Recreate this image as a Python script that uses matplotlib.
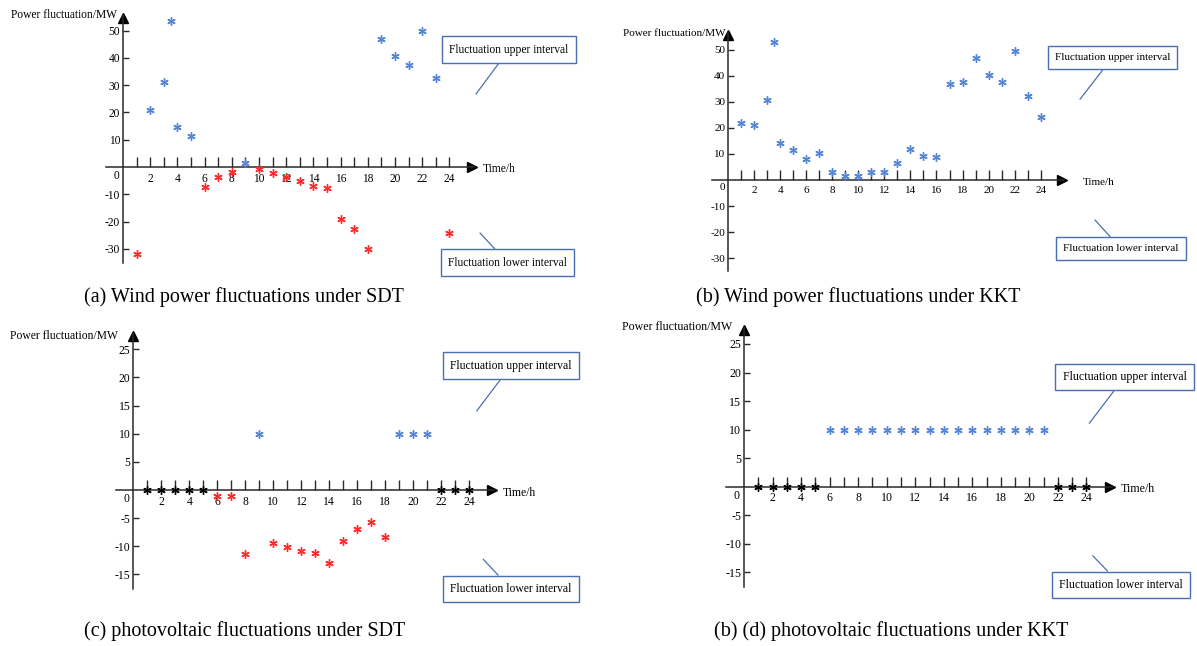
import matplotlib.pyplot as plt

plt.rcParams['font.family'] = ['Liberation Serif', 'DejaVu Serif']
plt.rcParams['axes.unicode_minus'] = False

# 数据
hours = list(range(1, 25))

# (a) 风电 SDT
wind_sdt_up_t = [2, 3, 3.5, 4, 5, 9, 19, 20, 21, 22, 23]
wind_sdt_up_v = [21, 31, 53.5, 14.5, 11.5, 1.5, 47, 40.5, 37.5, 50, 32.5]
wind_sdt_low_t = [1, 6, 7, 8, 10, 11, 12, 13, 14, 15, 16, 17, 18, 24]
wind_sdt_low_v = [-32, -7.5, -3.8, -1.8, -0.9, -2.3, -3.7, -5.1, -6.8, -7.6, -19.2, -22.6, -30, -24]

# (b) 风电 KKT
wind_kkt_t = [1, 2, 3, 3.5, 4, 5, 6, 7, 8, 9, 10, 11, 12, 13, 14, 15, 16, 17, 18, 19, 20, 21, 22, 23, 24]
wind_kkt_v = [22, 21, 30.7, 53, 14, 11.5, 8, 10.5, 3, 1.5, 1.5, 3, 3, 6.6, 12, 9.3, 8.8,
              36.8, 37.5, 46.6, 40.1, 37.5, 49.5, 32.3, 24]

# (c) 光伏 SDT
pv_zero_t = [1, 2, 3, 4, 5, 22, 23, 24]
pv_zero_v = [0, 0, 0, 0, 0, 0, 0, 0]
pv_sdt_up_t = [9, 19, 20, 21]
pv_sdt_up_v = [10, 10, 10, 10]
pv_sdt_low_t = [6, 7, 8, 10, 11, 12, 13, 14, 15, 16, 17, 18]
pv_sdt_low_v = [-1, -1, -11.4, -9.4, -10.2, -10.8, -11.2, -13, -9, -7, -5.7, -8.3]

# (d) 光伏 KKT
pv_kkt_up_t = [6, 7, 8, 9, 10, 11, 12, 13, 14, 15, 16, 17, 18, 19, 20, 21]
pv_kkt_up_v = [10, 10, 10, 10, 10, 10, 10, 10, 10, 10, 10, 10, 10, 10, 10, 10]

wind_yticks = [-30, -20, -10, 10, 20, 30, 40, 50]
pv_yticks = [-15, -10, -5, 5, 10, 15, 20, 25]

captions = ['(a) Wind power fluctuations under SDT',
            '(b) Wind power fluctuations under KKT',
            '(c) photovoltaic fluctuations under SDT',
            '(b) (d) photovoltaic fluctuations under KKT']

BLUE = '#5585d6'
RED = '#ff2b2b'
BOXC = '#4a6fb0'
AXC = '#2a2a2a'

W, H = 1197, 646
fig = plt.figure(figsize=(W / 100, H / 100), dpi=100)


def fxy(px, py):
    # 像素 -> figure fraction
    return px / W, 1 - py / H


def draw_panel(rect, origin, scale, ybounds, yticks, fs, ylabel_pos, time_pos, zero_pos,
               up_box, low_box):
    left, top, right, bottom = rect
    ox, oy = origin
    sx, sy = scale
    ax = fig.add_axes([left / W, 1 - bottom / H, (right - left) / W, (bottom - top) / H])
    ax.set_xlim((left - ox) / sx, (right - ox) / sx)
    ax.set_ylim((oy - bottom) / sy, (oy - top) / sy)
    ax.patch.set_alpha(0)
    ax.spines['top'].set_visible(False)
    ax.spines['right'].set_visible(False)
    ax.spines['left'].set_position(('data', 0))
    ax.spines['bottom'].set_position(('data', 0))
    ax.spines['left'].set_bounds(ybounds[0], ybounds[1] - 3 / sy)
    ax.spines['bottom'].set_bounds(-1.25, 26 - 3 / sx)
    for s in ['left', 'bottom']:
        ax.spines[s].set_color(AXC)
        ax.spines[s].set_linewidth(1.1)
    # 箭头
    ax.plot(26 - 5 / sx, 0, marker='>', ms=7, color='black', clip_on=False)
    ax.plot(0, ybounds[1] - 5 / sy, marker='^', ms=7, color='black', clip_on=False)
    ax.set_xticks(hours)
    ax.set_xticklabels([str(h) if h % 2 == 0 else '' for h in hours])
    ax.tick_params(axis='x', direction='in', length=7.5, width=1, pad=4,
                   labelsize=fs, color=AXC)
    ax.set_yticks(yticks)
    ax.tick_params(axis='y', direction='in', length=4.5, width=1, pad=2,
                   labelsize=fs, color=AXC)
    # 文字
    fig.text(*fxy(*ylabel_pos), 'Power fluctuation/MW', ha='right', va='center', fontsize=fs)
    fig.text(*fxy(*time_pos), 'Time/h', ha='left', va='center', fontsize=fs)
    fig.text(*fxy(*zero_pos), '0', ha='center', va='center', fontsize=fs)
    for (cx, cy, ex, ey), label in zip([up_box, low_box],
                                       ['Fluctuation upper interval', 'Fluctuation lower interval']):
        ax.annotate(label, xy=fxy(ex, ey), xycoords='figure fraction',
                    xytext=fxy(cx, cy), textcoords='figure fraction',
                    ha='center', va='center', fontsize=fs,
                    bbox=dict(boxstyle='square,pad=0.62', fc='white', ec=BOXC, lw=1),
                    arrowprops=dict(arrowstyle='-', color=BOXC, lw=0.9, shrinkA=0, shrinkB=0))
    return ax


mk = dict(linestyle='none', marker=(6, 2, 0), ms=6, mew=1.0, zorder=4, clip_on=False)

# (a)
ax = draw_panel((0, 0, 598, 285), (123, 167), (13.6, 2.73), (-35, 56.5), wind_yticks, 8.3,
                (117, 15), (483, 169), (116, 176), (509, 49.5, 476, 94), (507.5, 262.5, 480, 233))
ax.plot(wind_sdt_up_t, wind_sdt_up_v, color=BLUE, **mk)
ax.plot(wind_sdt_low_t, wind_sdt_low_v, color=RED, **mk)

# (b)
ax = draw_panel((600, 0, 1197, 285), (728, 180), (13.03, 2.61), (-35, 57.5), wind_yticks, 8.0,
                (726, 34), (1083, 183), (722, 188), (1112.5, 57.3, 1080, 99.3), (1121, 248.5, 1095, 220))
ax.plot(wind_kkt_t, wind_kkt_v, color=BLUE, **mk)

# (c)
ax = draw_panel((0, 315, 598, 615), (133.3, 490), (14.0, 5.63), (-17.5, 28.2), pv_yticks, 8.4,
                (118, 336), (503, 493), (126, 499), (511, 365.5, 476.7, 411), (511, 589, 483.3, 559.3))
ax.plot(pv_zero_t, pv_zero_v, color='black', **mk)
ax.plot(pv_sdt_up_t, pv_sdt_up_v, color=BLUE, **mk)
ax.plot(pv_sdt_low_t, pv_sdt_low_v, color=RED, **mk)

# (d)
ax = draw_panel((600, 315, 1197, 615), (744, 486.7), (14.27, 5.71), (-17.5, 28.3), pv_yticks, 8.6,
                (732, 327), (1121, 489), (736, 496), (1124.5, 377, 1089.3, 423.3), (1121, 585, 1092.7, 555.7))
ax.plot(pv_zero_t, pv_zero_v, color='black', **mk)
ax.plot(pv_kkt_up_t, pv_kkt_up_v, color=BLUE, **mk)

# 图注
for (cx, cy), cap in zip([(243.5, 297), (858, 297), (245, 631), (891, 631)], captions):
    fig.text(*fxy(cx, cy), cap, ha='center', va='center', fontsize=14.5)

fig.savefig('out.png', dpi=100)
